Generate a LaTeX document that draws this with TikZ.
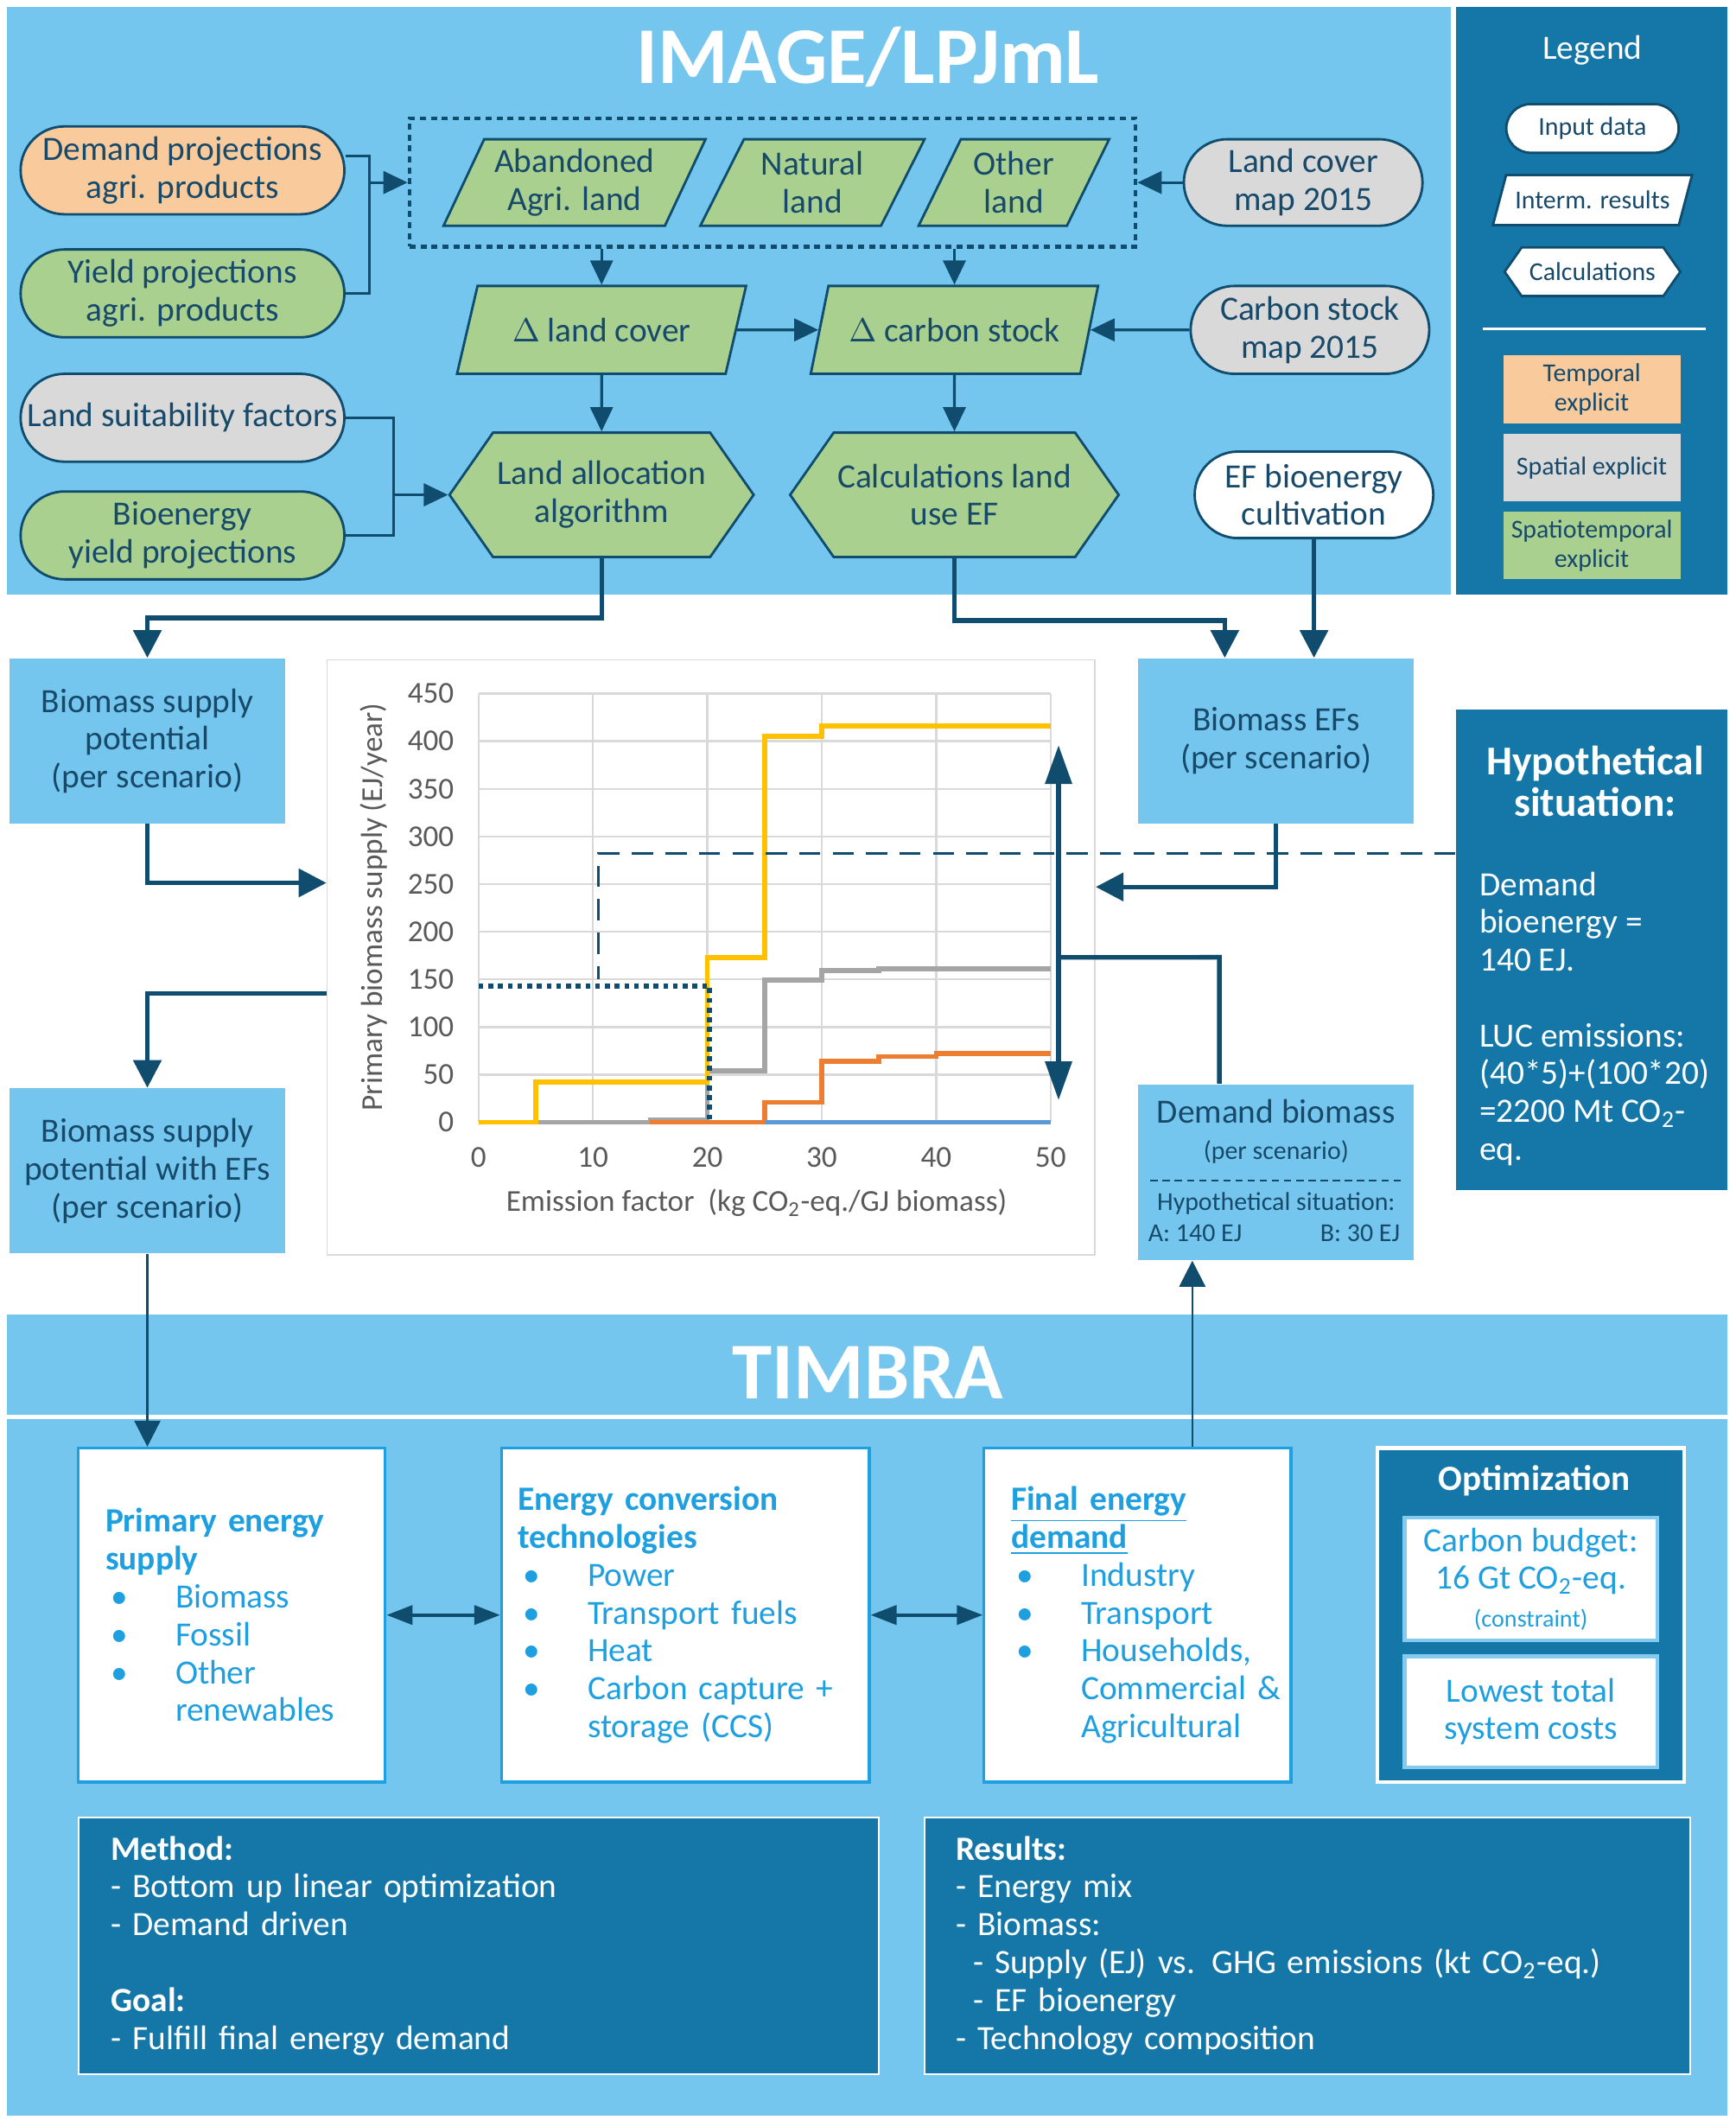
\documentclass[tikz,border=0pt]{standalone}
\usepackage{fontspec}
\setmainfont{Carlito}
\usetikzlibrary{arrows.meta, positioning, shapes.geometric, shapes.misc, shapes.symbols}
\definecolor{panelblue}{HTML}{75C6EE}
\definecolor{deepblue}{HTML}{1577A8}
\definecolor{navy}{HTML}{0F4C6E}
\definecolor{inktext}{HTML}{174A6A}
\definecolor{leafgreen}{HTML}{A9D08E}
\definecolor{peach}{HTML}{F9CB9C}
\definecolor{stone}{HTML}{D9D9D9}
\definecolor{brightblue}{HTML}{1E9FE0}
\definecolor{chartgray}{HTML}{595959}
\definecolor{gridgray}{HTML}{D9D9D9}
\definecolor{sergold}{HTML}{FFC000}
\definecolor{serorange}{HTML}{ED7D31}
\definecolor{sergray}{HTML}{A5A5A5}
\definecolor{serblue}{HTML}{5B9BD5}

\newcommand\upx{0.015646cm}
\newcommand\bodyfs{\fontsize{11.2}{12.45}\selectfont}
\newcommand\keyfs{\fontsize{8.5}{9.6}\selectfont}
\newcommand\chartfs{\fontsize{10}{12}\selectfont}
\newcommand\bigfs{\fontsize{26.5}{30}\selectfont\bfseries}
\newcommand\bul{\makebox[0.81cm][l]{\hspace{0.06cm}\textbullet}}

\tikzset{
  pill/.style={rounded rectangle, draw=navy, line width=0.8pt, text=inktext, font=\bodyfs, align=center, inner sep=1pt},
  slab/.style={trapezium, trapezium left angle=63, trapezium right angle=117, trapezium stretches=true, draw=navy, line width=0.8pt, fill=leafgreen, text=inktext, font=\bodyfs, align=center, inner sep=1pt},
  hexa/.style={signal, signal to=west and east, signal pointer angle=110, draw=navy, line width=0.8pt, fill=leafgreen, text=inktext, font=\bodyfs, align=center, inner sep=1pt},
  keytile/.style={rectangle, text=inktext, font=\keyfs, align=center, minimum width=131*\upx, minimum height=50*\upx, inner sep=1pt},
  paleblock/.style={rectangle, fill=panelblue, text=inktext, font=\bodyfs, align=center, minimum width=204*\upx, inner sep=1pt},
  timbox/.style={rectangle, fill=white, draw=brightblue, line width=0.9pt, text=brightblue, font=\bodyfs, align=left, minimum height=247*\upx, inner ysep=0pt},
  darkbox/.style={rectangle, fill=deepblue, draw=white, line width=0.6pt, text=white, font=\bodyfs, align=left},
  ticklbl/.style={text=chartgray, font=\chartfs, inner sep=0pt},
  gridline/.style={draw=gridgray, line width=0.7pt},
  series/.style={line width=1.6pt},
  flow/.style={draw=navy, line width=0.9pt, -{Triangle[length=0.28cm, width=0.26cm]}},
  link/.style={draw=navy, line width=0.9pt},
  mainflow/.style={draw=navy, line width=1.5pt, -{Triangle[length=0.32cm, width=0.32cm]}},
  mainlink/.style={draw=navy, line width=1.5pt},
  thinflow/.style={draw=navy, line width=0.7pt, -{Triangle[length=0.3cm, width=0.3cm]}},
  bothway/.style={draw=navy, line width=1.2pt, {Triangle[length=0.3cm, width=0.22cm]}-{Triangle[length=0.3cm, width=0.22cm]}},
  dashline/.style={draw=navy, line width=0.8pt, dash pattern=on 7pt off 4pt}
}

\begin{document}
\begin{tikzpicture}[x=0.015646cm, y=-0.015646cm]
  \useasboundingbox (0,0) rectangle (1284,1568);
  \fill[white] (0,0) rectangle (1284,1568);

  % panels
  \fill[panelblue] (5,5) rectangle (1073,440);
  \fill[deepblue] (1077,5) rectangle (1278,440);
  \fill[panelblue] (5,972) rectangle (1278,1565);
  \draw[white, line width=1.2pt] (5,1048) -- (1278,1048);

  \node[text=white, font=\bigfs] (imgtitle) at (642,42) {IMAGE/LPJmL};
  \node[text=white, font=\bigfs] (timtitle) at (642,1015) {TIMBRA};

  % IMAGE/LPJmL inputs
  \node[pill, fill=peach, minimum width=244*\upx, minimum height=65*\upx] (demand) at (135,126) {Demand projections\\agri. products};
  \node[pill, fill=leafgreen, minimum width=244*\upx, minimum height=65*\upx] (yield) at (135,217) {Yield projections\\agri. products};
  \node[pill, fill=stone, minimum width=244*\upx, minimum height=65*\upx] (suit) at (135,309) {Land suitability factors};
  \node[pill, fill=leafgreen, minimum width=244*\upx, minimum height=65*\upx] (bioyield) at (135,396) {Bioenergy\\yield projections};

  \node[draw=navy, line width=1.3pt, dash pattern=on 2pt off 1.6pt, minimum width=537*\upx, minimum height=95*\upx] (landgroup) at (571.5,135) {};
  \node[slab, minimum width=194*\upx, minimum height=64*\upx] (aband) at (425,135) {Abandoned\\Agri. land};
  \node[slab, minimum width=166*\upx, minimum height=64*\upx] (natural) at (601,135) {Natural\\land};
  \node[slab, minimum width=141*\upx, minimum height=64*\upx] (other) at (750,135) {Other\\land};
  \node[pill, fill=stone, minimum width=181*\upx, minimum height=64*\upx] (lcmap) at (964,135) {Land cover\\map 2015};

  \node[slab, minimum width=214*\upx, minimum height=65*\upx] (dland) at (445,244) {$\Delta$ land cover};
  \node[slab, minimum width=214*\upx, minimum height=65*\upx] (dcarbon) at (706,244) {$\Delta$ carbon stock};
  \node[pill, fill=stone, minimum width=181*\upx, minimum height=65*\upx] (csmap) at (969,244) {Carbon stock\\map 2015};

  \node[hexa, minimum width=225*\upx, minimum height=92*\upx] (alloc) at (445,366) {Land allocation\\algorithm};
  \node[hexa, minimum width=243*\upx, minimum height=92*\upx] (calcef) at (706,366) {Calculations land\\use EF};
  \node[pill, fill=white, minimum width=181*\upx, minimum height=64*\upx] (efbio) at (972,366) {EF bioenergy\\cultivation};

  % legend
  \node[text=white, font=\bodyfs] (legtitle) at (1178,37) {Legend};
  \node[pill, fill=white, font=\keyfs, minimum width=132*\upx, minimum height=36*\upx] (keyinput) at (1178,95) {Input data};
  \node[slab, fill=white, font=\keyfs, minimum width=148*\upx, minimum height=37*\upx] (keyinterm) at (1178,148) {Interm. results};
  \node[hexa, fill=white, font=\keyfs, minimum width=130*\upx, minimum height=36*\upx] (keycalc) at (1178,201) {Calculations};
  \draw[white, line width=0.8pt] (1097,243) -- (1262,243);
  \node[keytile, fill=peach] (keytemp) at (1177.5,288) {Temporal\\explicit};
  \node[keytile, fill=stone] (keyspat) at (1177.5,346) {Spatial explicit};
  \node[keytile, fill=leafgreen] (keyboth) at (1177.5,403.5) {Spatiotemporal\\explicit};

  % middle blocks
  \node[paleblock, minimum height=122*\upx] (supply) at (109,548) {Biomass supply\\potential\\(per scenario)};
  \node[paleblock, minimum height=122*\upx] (supplyef) at (109,866) {Biomass supply\\potential with EFs\\(per scenario)};
  \node[paleblock, minimum height=122*\upx] (efs) at (944,548) {Biomass EFs\\(per scenario)};
  \node[paleblock, minimum height=130*\upx] (demandbm) at (944,867) {};
  \node[text=inktext, font=\bodyfs] (dbtitle) at (944,822) {Demand biomass};
  \node[text=inktext, font=\keyfs] (dbscen) at (944,852) {(per scenario)};
  \draw[inktext, line width=0.5pt, dash pattern=on 2.4pt off 1.6pt] (851,873) -- (1037,873);
  \node[text=inktext, font=\keyfs] (dbhyp) at (944,890) {Hypothetical situation:};
  \node[text=inktext, font=\keyfs, anchor=west, inner sep=0pt] (dba) at (849,912) {A: 140 EJ};
  \node[text=inktext, font=\keyfs, anchor=east, inner sep=0pt] (dbb) at (1036,912) {B: 30 EJ};

  \node[fill=deepblue, minimum width=201*\upx, minimum height=355*\upx] (hypo) at (1177.5,702.5) {};
  \node[text=white, font=\fontsize{13.5}{13.8}\selectfont\bfseries, align=center] (hypotitle) at (1180,578) {Hypothetical\\situation:};
  \node[text=white, font=\bodyfs, align=left, anchor=west, inner sep=0pt] (hypobody) at (1094,753.5) {Demand\\bioenergy =\\140 EJ.\\[12.45pt]LUC emissions:\\(40*5)+(100*20)\\=2200 Mt CO\textsubscript{2}-\\eq.};

  % chart
  \node[fill=white, draw=gridgray, line width=0.5pt, minimum width=568*\upx, minimum height=440*\upx] (chart) at (526,708) {};
  \begin{scope}[shift={(354,830)}, x=0.13236cm, y=0.011021cm]
    \foreach \gx in {0,10,...,50}
      \draw[gridline] (\gx,0) -- (\gx,450);
    \foreach \gy in {0,50,...,450}
      \draw[gridline] (0,\gy) -- (50,\gy);
    \foreach \gy in {0,50,...,450}
      \node[ticklbl, anchor=east] (yt\gy) at (-2.1,\gy) {\gy};
    \foreach \gx in {0,10,...,50}
      \node[ticklbl] (xt\gx) at (\gx,-37) {\gx};
    \node[ticklbl, rotate=90] (ytitle) at (-9.2,226) {Primary biomass supply (EJ/year)};
    \node[ticklbl] (xtitle) at (24.3,-85) {Emission factor\ \ (kg CO\textsubscript{2}-eq./GJ biomass)};

    \draw[series, sergray] (0,0) -- (15,0) -- (15,2) -- (20,2) -- (20,54) -- (25,54) -- (25,149) -- (30,149) -- (30,159) -- (35,159) -- (35,161) -- (50,161);
    \draw[series, serorange] (15,0) -- (25,0) -- (25,21) -- (30,21) -- (30,64) -- (35,64) -- (35,69) -- (40,69) -- (40,72) -- (50,72);
    \draw[series, serblue] (25,0) -- (50,0);
    \draw[series, sergold] (0,0) -- (5,0) -- (5,42) -- (20,42) -- (20,173) -- (25,173) -- (25,405) -- (30,405) -- (30,416) -- (50,416);
    \draw[navy, line width=1.6pt, dash pattern=on 1.6pt off 1.6pt] (0,143) -- (20.2,143) -- (20.2,0);

    \coordinate (dbtop) at (50.7,396);
    \coordinate (dbbot) at (50.7,23);
    \coordinate (dbmid) at (50.7,173);
    \coordinate (hypy) at (10.5,282);
    \coordinate (hypx) at (10.5,150);
  \end{scope}
  \draw[navy, line width=1.8pt, {Triangle[length=0.45cm, width=0.3cm]}-{Triangle[length=0.45cm, width=0.3cm]}] (dbbot) -- (dbtop);
  \draw[dashline] (hypo.west |- hypy) -- (hypy) -- (hypx);

  % TIMBRA boxes
  \node[timbox, minimum width=227*\upx, text width=187*\upx, inner xsep=20*\upx] (pes) at (171.5,1194.5) {\textbf{Primary energy}\\\textbf{supply}\\\bul Biomass\\\bul Fossil\\\bul Other\\\hspace*{0.81cm}renewables};
  \node[timbox, minimum width=272*\upx, text width=248*\upx, inner xsep=12*\upx] (ect) at (507,1194.5) {\textbf{Energy conversion}\\\textbf{technologies}\\\bul Power\\\bul Transport fuels\\\bul Heat\\\bul Carbon capture +\\\hspace*{0.81cm}storage (CCS)};
  \node[timbox, minimum width=227*\upx, text width=187*\upx, inner xsep=20*\upx] (fed) at (841.5,1194.5) {\textbf{\underline{Final energy}}\\\textbf{\underline{demand}}\\\bul Industry\\\bul Transport\\\bul Households,\\\hspace*{0.81cm}\makebox[0pt][l]{Commercial \&}\\\hspace*{0.81cm}Agricultural};

  \node[fill=deepblue, draw=white, line width=1.2pt, minimum width=227*\upx, minimum height=247*\upx] (opt) at (1132.5,1194.5) {};
  \node[text=white, font=\fontsize{11.7}{13}\selectfont\bfseries] (opttitle) at (1135,1095) {Optimization};
  \node[fill=white, draw=brightblue!55, line width=1.2pt, text=brightblue, font=\bodyfs, align=center, minimum width=187*\upx, minimum height=90*\upx] (budget) at (1132.5,1168) {Carbon budget:\\16 Gt CO\textsubscript{2}-eq.\\{\fontsize{8}{13}\selectfont(constraint)}};
  \node[fill=white, draw=brightblue!55, line width=1.2pt, text=brightblue, font=\bodyfs, align=center, minimum width=187*\upx, minimum height=82*\upx] (lowcost) at (1132.5,1266) {Lowest total\\system costs};

  \node[darkbox, minimum width=592*\upx, minimum height=190*\upx, text width=544*\upx, inner xsep=24*\upx] (method) at (354,1439) {\textbf{Method:}\\- Bottom up linear optimization\\- Demand driven\\[12.45pt]\textbf{Goal:}\\- Fulfill final energy demand};
  \node[darkbox, minimum width=566*\upx, minimum height=190*\upx, text width=520*\upx, inner xsep=23*\upx] (results) at (967,1439) {\textbf{Results:}\\- Energy mix\\- Biomass:\\\hspace*{0.2cm}- Supply (EJ) vs. GHG emissions (kt CO\textsubscript{2}-eq.)\\\hspace*{0.2cm}- EF bioenergy\\- Technology composition};

  % connectors
  \coordinate (j1) at (273,135);
  \coordinate (j2) at (291,366);
  \coordinate (r1) at (0,457);
  \coordinate (e1) at (906,459);
  \coordinate (s1) at (0,653);
  \coordinate (s2) at (0,656);
  \coordinate (s3) at (0,735);
  \coordinate (dm1) at (902,708);
  \coordinate (dmup) at (882,0);

  \draw[link] ([yshift=0.17cm]demand.east) -| (j1) |- (yield.east);
  \draw[flow] (j1) -- (landgroup.west);
  \draw[link] (suit.east) -| (j2) |- (bioyield.east);
  \draw[flow] (j2) -- (alloc.west);
  \draw[flow] (lcmap.west) -- (landgroup.east);
  \draw[flow] (dland.north |- landgroup.south) -- (dland.north);
  \draw[flow] (dcarbon.north |- landgroup.south) -- (dcarbon.north);
  \draw[flow] (dland.east) -- (dcarbon.west);
  \draw[flow] (csmap.west) -- (dcarbon.east);
  \draw[flow] (dland.south) -- (alloc.north);
  \draw[flow] (dcarbon.south) -- (calcef.north);

  \draw[mainflow] (alloc.south) -- (alloc.south |- r1) -| (supply.north);
  \draw[mainflow] (calcef.south) |- (e1) -- (e1 |- efs.north);
  \draw[mainflow] (efbio.south) -- (efbio.south |- efs.north);
  \draw[mainflow] (supply.south) |- (chart.west |- s1);
  \draw[mainflow] (efs.south) |- (chart.east |- s2);
  \draw[mainflow] (chart.west |- s3) -| (supplyef.north);
  \draw[mainlink] (dbmid) -- (dm1) -- (dm1 |- demandbm.north);

  \draw[thinflow] (supplyef.south) -- (supplyef.south |- pes.north);
  \draw[thinflow] (dmup |- fed.north) -- (dmup |- demandbm.south);
  \draw[bothway] (pes.east) -- (ect.west);
  \draw[bothway] (ect.east) -- (fed.west);
\end{tikzpicture}
\end{document}
